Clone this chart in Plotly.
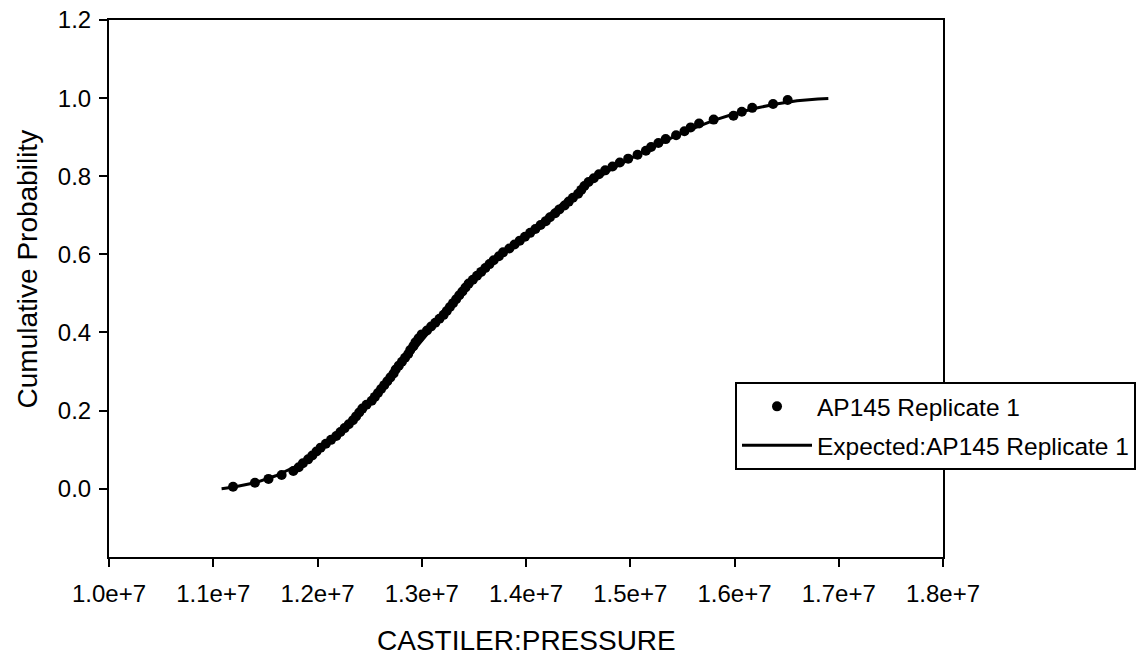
import plotly.graph_objects as go

# Observed sample: pressure values (Pa) and their cumulative plotting positions
pressure_obs = [
    11190000, 11400000, 11530000, 11656000, 11768000, 11820000, 11860000, 11910000, 11950000, 11990000,
    12030000, 12080000, 12130000, 12180000, 12220000, 12260000, 12300000, 12340000, 12370000, 12400000,
    12430000, 12470000, 12520000, 12550000, 12580000, 12610000, 12640000, 12670000, 12700000, 12730000,
    12750000, 12780000, 12810000, 12840000, 12870000, 12890000, 12920000, 12940000, 12970000, 13000000,
    13050000, 13090000, 13130000, 13170000, 13210000, 13240000, 13270000, 13300000, 13330000, 13360000,
    13390000, 13420000, 13450000, 13490000, 13530000, 13570000, 13610000, 13650000, 13690000, 13740000,
    13780000, 13840000, 13890000, 13940000, 13990000, 14040000, 14090000, 14140000, 14190000, 14230000,
    14280000, 14320000, 14370000, 14410000, 14450000, 14500000, 14530000, 14560000, 14600000, 14650000,
    14700000, 14760000, 14830000, 14900000, 14980000, 15070000, 15150000, 15200000, 15270000, 15340000,
    15440000, 15520000, 15580000, 15660000, 15800000, 15990000, 16070000, 16170000, 16370000, 16510000,
]
prob_obs = [
    0.005, 0.015, 0.025, 0.035, 0.045, 0.055, 0.065, 0.075, 0.085, 0.095,
    0.105, 0.115, 0.125, 0.135, 0.145, 0.155, 0.165, 0.175, 0.185, 0.195,
    0.205, 0.215, 0.225, 0.235, 0.245, 0.255, 0.265, 0.275, 0.285, 0.295,
    0.305, 0.315, 0.325, 0.335, 0.345, 0.355, 0.365, 0.375, 0.385, 0.395,
    0.405, 0.415, 0.425, 0.435, 0.445, 0.455, 0.465, 0.475, 0.485, 0.495,
    0.505, 0.515, 0.525, 0.535, 0.545, 0.555, 0.565, 0.575, 0.585, 0.595,
    0.605, 0.615, 0.625, 0.635, 0.645, 0.655, 0.665, 0.675, 0.685, 0.695,
    0.705, 0.715, 0.725, 0.735, 0.745, 0.755, 0.765, 0.775, 0.785, 0.795,
    0.805, 0.815, 0.825, 0.835, 0.845, 0.855, 0.865, 0.875, 0.885, 0.895,
    0.905, 0.915, 0.925, 0.935, 0.945, 0.955, 0.965, 0.975, 0.985, 0.995,
]

# Expected (fitted) cumulative distribution
pressure_fit = [
    11080000, 11200000, 11400000, 11600000, 11800000, 12000000, 12200000, 12400000,
    12600000, 12800000, 13000000, 13200000, 13400000, 13600000, 13800000, 14000000,
    14200000, 14400000, 14600000, 14800000, 15000000, 15200000, 15400000, 15600000,
    15800000, 16000000, 16200000, 16400000, 16600000, 16800000, 16900000,
]
prob_fit = [
    0.000, 0.004, 0.015, 0.033, 0.058, 0.093, 0.137, 0.190,
    0.250, 0.314, 0.380, 0.443, 0.503, 0.558, 0.605, 0.651,
    0.695, 0.742, 0.781, 0.815, 0.845, 0.873, 0.899, 0.922,
    0.943, 0.960, 0.974, 0.985, 0.993, 0.998, 0.999,
]

x_ticks = [10000000, 11000000, 12000000, 13000000, 14000000, 15000000, 16000000, 17000000, 18000000]
y_ticks = [0.0, 0.2, 0.4, 0.6, 0.8, 1.0, 1.2]

FONT = "Liberation Sans, Arial, sans-serif"

fig = go.Figure()
fig.add_trace(go.Scatter(
    x=pressure_fit, y=prob_fit, mode="lines",
    line=dict(color="black", width=3),
    name="Expected:AP145 Replicate 1", legendgroup="b", legendrank=2,
))
fig.add_trace(go.Scatter(
    x=pressure_obs, y=prob_obs, mode="markers",
    marker=dict(color="black", size=10, symbol="circle"),
    name="AP145 Replicate 1", legendgroup="a", legendrank=1,
))

axis_common = dict(
    showgrid=False, zeroline=False, showline=True, linecolor="black", linewidth=2,
    mirror=True, ticks="outside", ticklen=8, tickwidth=2, tickcolor="black",
    tickfont=dict(family=FONT, size=24, color="black"),
)

fig.update_layout(
    width=1140, height=655,
    margin=dict(l=109, r=197, t=20, b=98, autoexpand=False),
    paper_bgcolor="white", plot_bgcolor="white",
    showlegend=True,
    legend=dict(
        x=0.7506, y=0.326, xanchor="left", yanchor="top",
        bgcolor="white", bordercolor="black", borderwidth=2,
        font=dict(family=FONT, size=24.5, color="black"),
        traceorder="grouped", tracegroupgap=4, itemwidth=70,
    ),
    xaxis=dict(range=[10000000, 18000000], tickvals=x_ticks, tickformat=".1e",
               ticklabelstandoff=6, **axis_common),
    yaxis=dict(range=[-0.175, 1.2], tickvals=y_ticks, tickformat=".1f",
               ticklabelstandoff=3, **axis_common),
    annotations=[
        dict(text="CASTILER:PRESSURE", xref="paper", yref="paper", x=0.5, y=-0.155,
             xanchor="center", yanchor="middle", showarrow=False,
             font=dict(family=FONT, size=28, color="black")),
        dict(text="Cumulative Probability", xref="paper", yref="paper", x=-0.098, y=0.536,
             xanchor="center", yanchor="middle", showarrow=False, textangle=-90,
             font=dict(family=FONT, size=28, color="black")),
    ],
)

fig.write_html("out.html")
